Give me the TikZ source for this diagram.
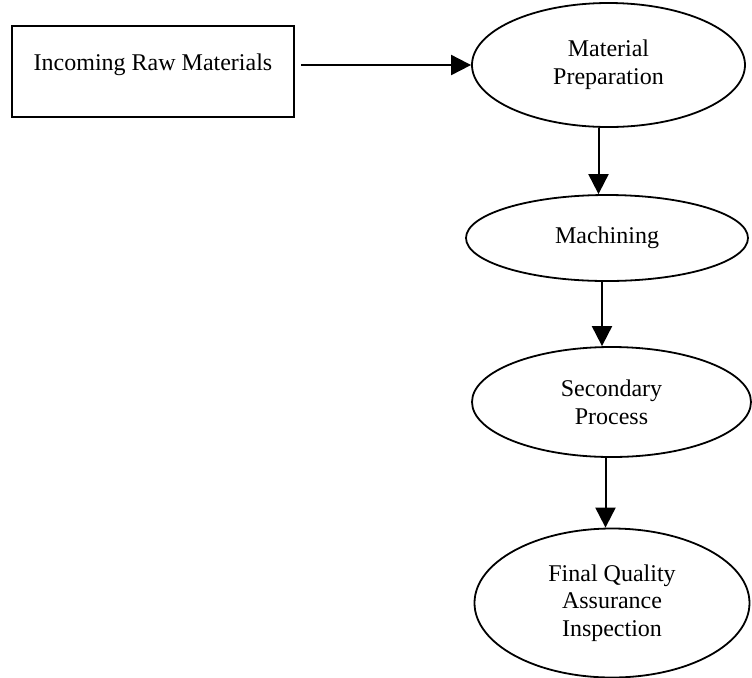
\documentclass[tikz,border=0pt]{standalone}
\usepackage{fontspec}
\setmainfont{Liberation Serif}
\usepackage{tikz}
\usetikzlibrary{arrows.meta, positioning, shapes.geometric}
\tikzset{
  >=latex,
  % Blocchi del processo
  inbox/.style={draw,line width=1.2pt,rectangle,minimum width=141pt,minimum height=45.5pt,
    inner sep=0pt,text depth=9pt,font=\fontsize{12}{13.8}\selectfont},
  proc/.style={draw,line width=0.9pt,ellipse,inner sep=0pt,align=center,
    font=\fontsize{12}{13.8}\selectfont},
  % Connessioni
  flow/.style={-{Triangle[length=10pt,width=10pt]},line width=1pt}
}
\begin{document}
\begin{tikzpicture}[x=0.5pt,y=-0.5pt]
    \useasboundingbox (0,0) rectangle (752,677);
    % Ingresso
    \node[inbox] (rawmat) at (153,71.5) {Incoming Raw Materials};
    % Fasi
    \node[proc,minimum width=136.5pt,minimum height=62pt] (prep) at (608.5,65) {Material\\Preparation};
    \node[proc,minimum width=141pt,minimum height=43pt] (mach) at (607,238) {Machining};
    \node[proc,minimum width=139.5pt,minimum height=55pt] (second) at (611.5,402) {Secondary\\Process};
    \node[proc,minimum width=137.5pt,minimum height=74.5pt] (finalqa) at (612,603) {Final Quality\\Assurance\\Inspection};
    % Frecce
    \draw[flow,shorten <=3pt] (rawmat.east |- prep.west) -- (prep.west);
    \draw[flow] ([xshift=-5pt]prep.south) -- ([xshift=-5pt]prep.south |- mach.north);
    \draw[flow] ([xshift=-2.5pt]mach.south) -- ([xshift=-2.5pt]mach.south |- second.north);
    \draw[flow] ([xshift=-3pt]second.south) -- ([xshift=-3pt]second.south |- finalqa.north);
  \end{tikzpicture}
\end{document}
